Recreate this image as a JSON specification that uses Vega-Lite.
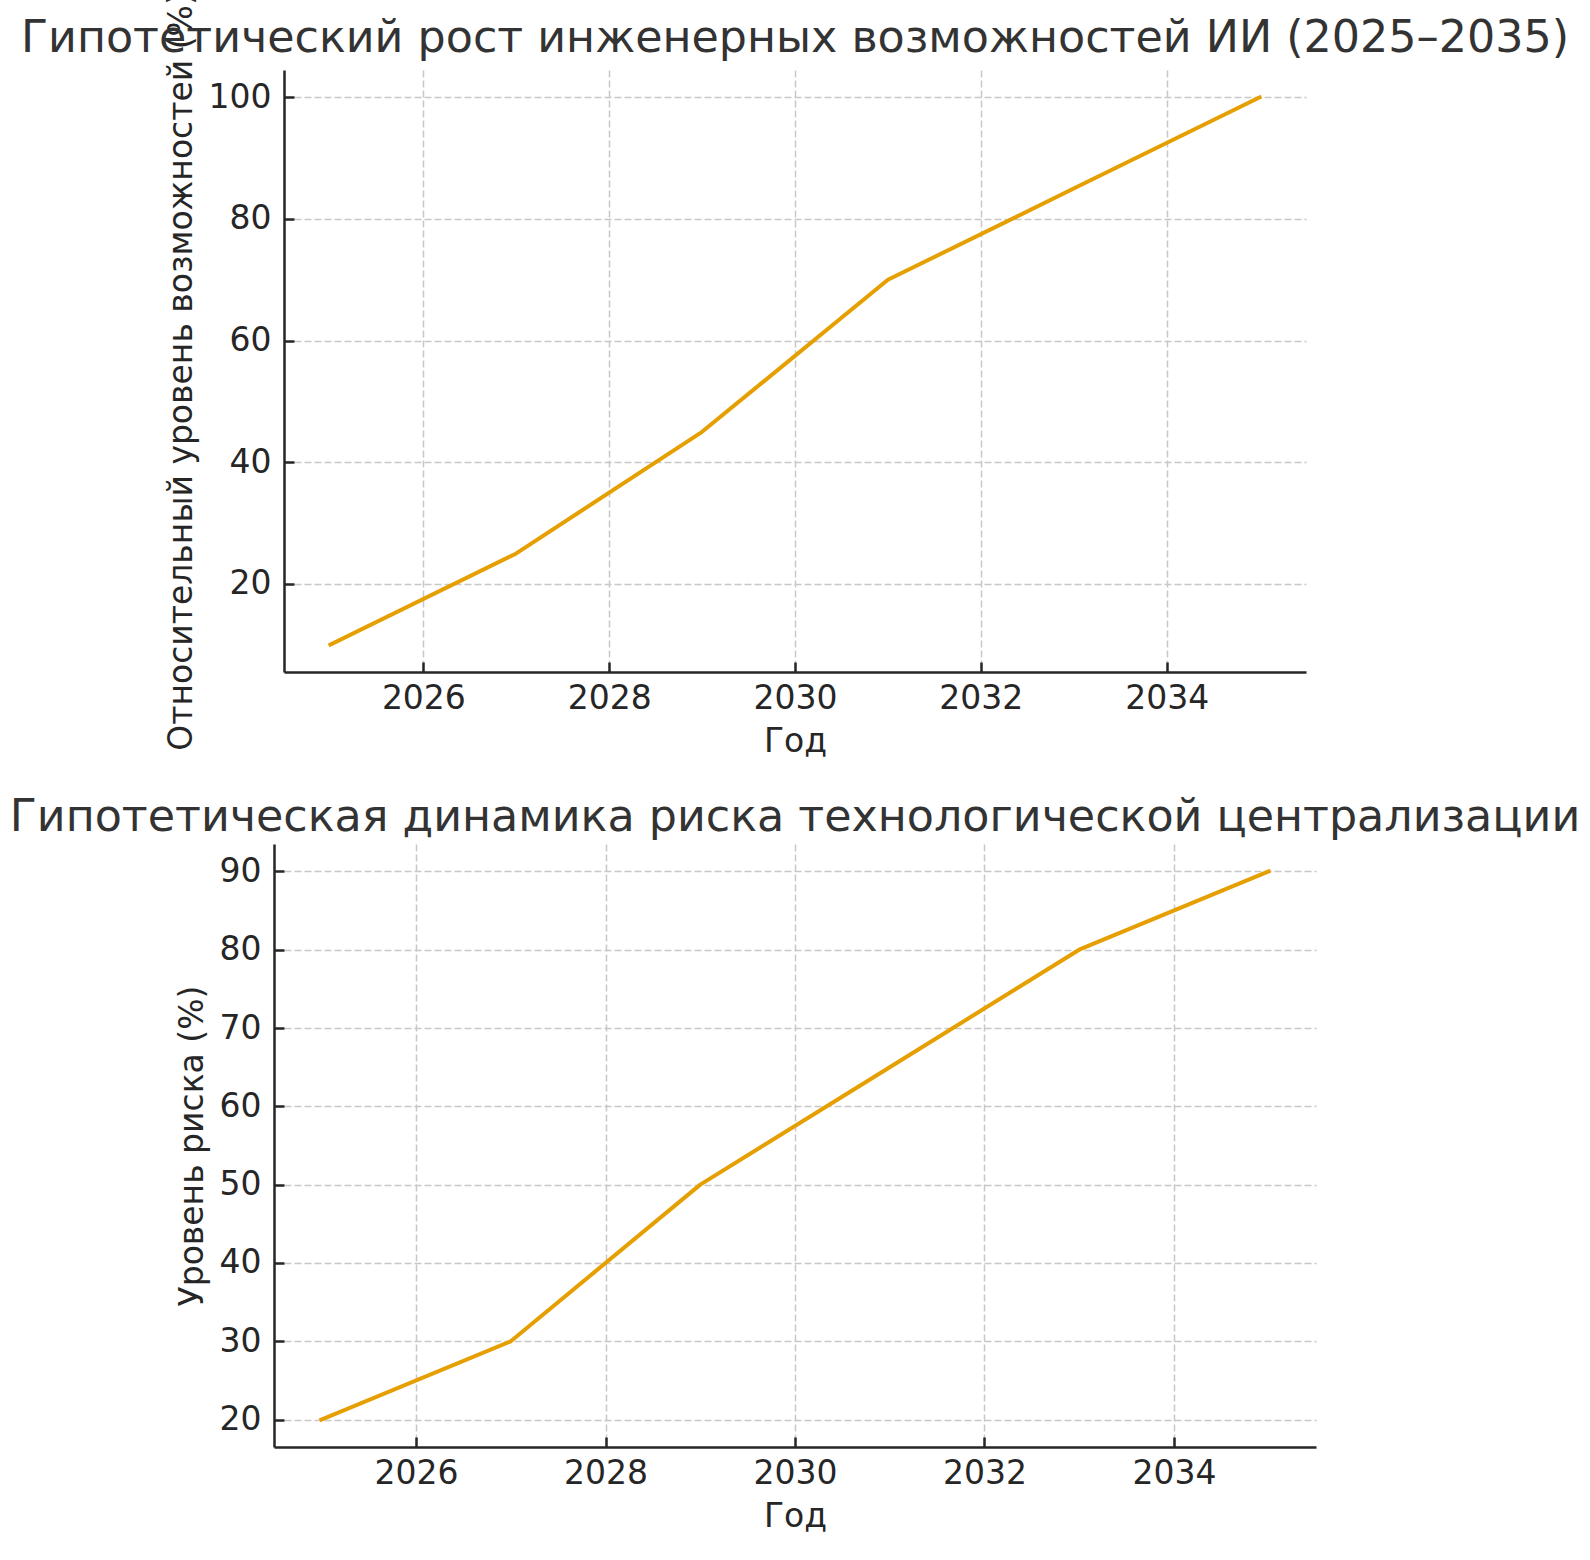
{
  "$schema": "https://vega.github.io/schema/vega-lite/v6.json",
  "background": "white",
  "padding": {"left": 9, "top": -9, "right": 0, "bottom": 0},
  "config": {
    "font": "DejaVu Sans",
    "view": {"stroke": null},
    "axis": {
      "domainColor": "#262626",
      "domainWidth": 2.5,
      "tickColor": "#262626",
      "tickWidth": 2.5,
      "tickSize": -10,
      "labelFont": "DejaVu Sans",
      "labelFontSize": 33,
      "labelColor": "#262626",
      "labelFlush": false,
      "labelOverlap": false,
      "titleFont": "DejaVu Sans",
      "titleFontSize": 33,
      "titleFontWeight": "normal",
      "titleColor": "#262626",
      "titlePadding": 10,
      "gridColor": "#c8c8c8",
      "gridDash": [7, 3],
      "gridWidth": 1.5
    },
    "axisX": {"labelPadding": 20},
    "axisY": {"labelPadding": 23},
    "title": {
      "font": "DejaVu Sans",
      "fontSize": 44.4,
      "fontWeight": "normal",
      "color": "#333333",
      "anchor": "middle",
      "frame": "group",
      "baseline": "alphabetic"
    }
  },
  "datasets": {
    "cap": [
      {"year": 2025, "value": 10},
      {"year": 2027, "value": 25},
      {"year": 2029, "value": 45},
      {"year": 2031, "value": 70},
      {"year": 2033, "value": 85},
      {"year": 2035, "value": 100}
    ],
    "risk": [
      {"year": 2025, "value": 20},
      {"year": 2027, "value": 30},
      {"year": 2029, "value": 50},
      {"year": 2031, "value": 65},
      {"year": 2033, "value": 80},
      {"year": 2035, "value": 90}
    ]
  },
  "spacing": 172,
  "bounds": "flush",
  "center": true,
  "vconcat": [
    {
      "title": {"text": "Гипотетический рост инженерных возможностей ИИ (2025–2035)", "offset": -70},
      "width": 1022,
      "height": 602,
      "data": {"name": "cap"},
      "mark": {"type": "line", "color": "#E69F00", "strokeWidth": 4, "strokeCap": "square", "strokeJoin": "round"},
      "encoding": {
        "x": {
          "field": "year", "type": "quantitative",
          "scale": {"domain": [2024.5, 2035.5], "nice": false, "zero": false},
          "axis": {"values": [2026, 2028, 2030, 2032, 2034], "format": "d", "title": "Год"}
        },
        "y": {
          "field": "value", "type": "quantitative",
          "scale": {"domain": [5.5, 104.5], "nice": false, "zero": false},
          "axis": {"values": [20, 40, 60, 80, 100], "title": "Относительный уровень возможностей (%)"}
        }
      }
    },
    {
      "title": {"text": "Гипотетическая динамика риска технологической централизации", "offset": 3.5},
      "width": 1042,
      "height": 603,
      "data": {"name": "risk"},
      "mark": {"type": "line", "color": "#E69F00", "strokeWidth": 4, "strokeCap": "square", "strokeJoin": "round"},
      "encoding": {
        "x": {
          "field": "year", "type": "quantitative",
          "scale": {"domain": [2024.5, 2035.5], "nice": false, "zero": false},
          "axis": {"values": [2026, 2028, 2030, 2032, 2034], "format": "d", "title": "Год"}
        },
        "y": {
          "field": "value", "type": "quantitative",
          "scale": {"domain": [16.5, 93.5], "nice": false, "zero": false},
          "axis": {"values": [20, 30, 40, 50, 60, 70, 80, 90], "title": "Уровень риска (%)"}
        }
      }
    }
  ]
}
